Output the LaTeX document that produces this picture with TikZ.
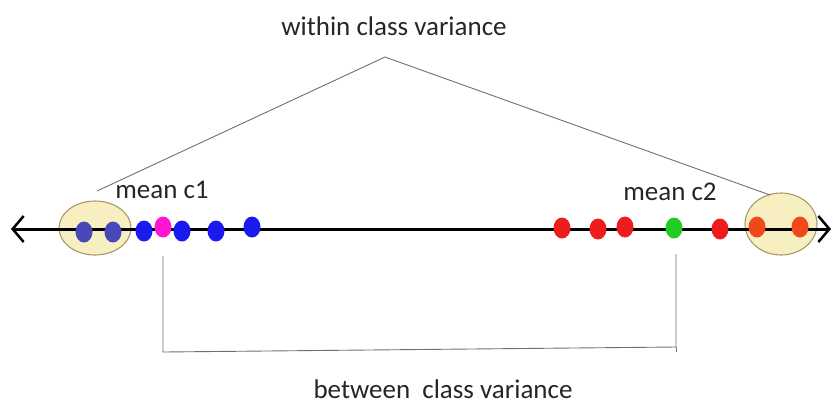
\documentclass[tikz,border=0pt]{standalone}
\usepackage{fontspec}
\setmainfont{Carlito}
\usetikzlibrary{shapes.geometric,arrows.meta}
\definecolor{blueDot}{HTML}{1A1AEE}
\definecolor{slateDot}{HTML}{4848B8}
\definecolor{magDot}{HTML}{FF14D2}
\definecolor{redDot}{HTML}{EE1C1C}
\definecolor{greenDot}{HTML}{22CC22}
\definecolor{orangeDot}{HTML}{F04818}
\definecolor{ellFill}{HTML}{F7EFC2}
\definecolor{ellDraw}{HTML}{A89868}
\definecolor{lineGray}{HTML}{707070}
\tikzset{
  dot/.style={ellipse, inner sep=0pt, minimum width=17pt, minimum height=21pt, draw=none},
  grp/.style={ellipse, inner sep=0pt, fill=ellFill, draw=ellDraw, line width=1.1pt},
  lbl/.style={font=\fontsize{27}{30}\selectfont, text=black!85, inner sep=0pt},
  thin/.style={draw=lineGray, line width=0.9pt},
  axis/.style={line width=3pt, {Straight Barb[length=11pt,width=26pt,line width=2.5pt]}-{Straight Barb[length=11pt,width=26pt,line width=2.5pt]}}
}
\begin{document}
\begin{tikzpicture}[x=1pt,y=-1pt]
\useasboundingbox (0,0) rectangle (834,413);
% groups
\node[grp, minimum width=72pt, minimum height=54pt] (g1) at (95,228) {};
\node[grp, minimum width=72pt, minimum height=62pt] (g2) at (781,224) {};
% axis
\coordinate (aL) at (11,229);
\coordinate (aR) at (831,229);
\draw[axis] (aL) -- (aR);
% dots class 1
\node[dot, fill=slateDot] (p1) at (84,232) {};
\node[dot, fill=slateDot] (p2) at (113,232) {};
\node[dot, fill=blueDot] (b1) at (144,231) {};
\node[dot, fill=magDot] (m1) at (163,227) {};
\node[dot, fill=blueDot] (b2) at (182,231) {};
\node[dot, fill=blueDot] (b3) at (216,231) {};
\node[dot, fill=blueDot] (b4) at (252,227) {};
% dots class 2
\node[dot, fill=redDot] (r1) at (562,228) {};
\node[dot, fill=redDot] (r2) at (598,229) {};
\node[dot, fill=redDot] (r3) at (625,227) {};
\node[dot, fill=greenDot] (m2) at (674,228) {};
\node[dot, fill=redDot] (r4) at (720,229) {};
\node[dot, fill=orangeDot] (o1) at (757,227) {};
\node[dot, fill=orangeDot] (o2) at (800,227) {};
% labels
\node[lbl] (t1) at (162,190) {mean c1};
\node[lbl] (t2) at (670,192) {mean c2};
\node[lbl] (tw) at (394,26) {within class variance};
\node[lbl] (tb) at (443,389) {between\ \ class variance};
% within class variance lines
\coordinate (apex) at (385,57);
\coordinate (wl) at (97,191);
\coordinate (wr) at (770,195);
\draw[thin] (wl) -- (apex) -- (wr);
% between class variance bracket
\coordinate (bl) at (163,352);
\coordinate (br) at (676,347);
\draw[thin] (m1 |- 0,256) -- (bl) -- (br) -- (br |- 0,254);
\draw[thin] (br) -- ++(0,5);
\end{tikzpicture}
\end{document}
